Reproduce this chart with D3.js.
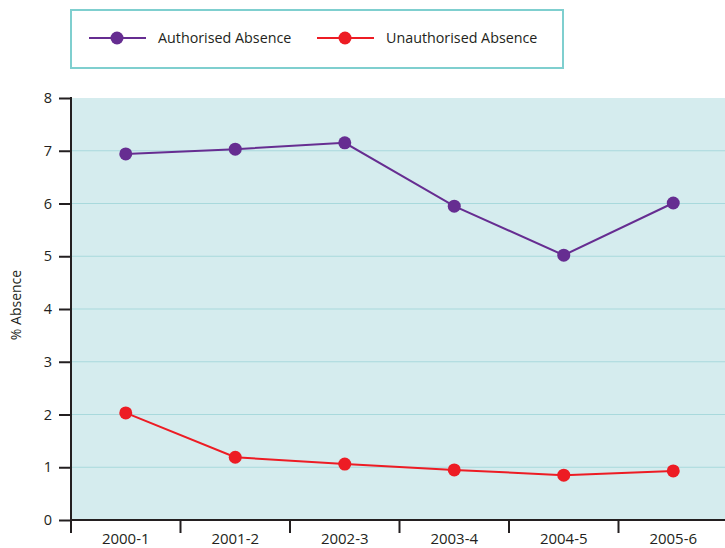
<!DOCTYPE html>
<html>
<head>
<meta charset="utf-8">
<script src="https://cdn.jsdelivr.net/npm/d3@7"></script>
<style>
  body { margin: 0; background: #fff; }
  text { font-family: "Open Sans", "Noto Sans", sans-serif; fill: #231f20; }
</style>
</head>
<body>
<div id="chart"></div>
<script>
var years = ["2000-1", "2001-2", "2002-3", "2003-4", "2004-5", "2005-6"];
var authorised = [6.94, 7.03, 7.15, 5.95, 5.02, 6.01];
var unauthorised = [2.03, 1.19, 1.06, 0.95, 0.85, 0.93];
var yTicks = [0, 1, 2, 3, 4, 5, 6, 7, 8];
var seriesNames = ["Authorised Absence", "Unauthorised Absence"];
var seriesColors = ["#662d91", "#ed1c24"];

var width = 725, height = 548;
var margin = { top: 98, left: 71, right: 0, bottom: 28 };
var innerW = width - margin.left - margin.right;
var innerH = height - margin.top - margin.bottom;

var svg = d3.select("#chart").append("svg")
    .attr("width", width)
    .attr("height", height);

var g = svg.append("g")
    .attr("transform", "translate(" + margin.left + "," + margin.top + ")");

var xScale = d3.scaleBand().domain(years).range([0, 657]);
var yScale = d3.scaleLinear().domain([0, 8]).range([innerH, 0]);

// background
g.append("rect")
    .attr("width", innerW)
    .attr("height", innerH)
    .attr("fill", "#d5ecee");

// grid lines
g.selectAll(".grid")
    .data(yTicks.slice(1, -1))
    .enter().append("line")
    .attr("class", "grid")
    .attr("x1", 0).attr("x2", innerW)
    .attr("y1", function(d) { return yScale(d); })
    .attr("y2", function(d) { return yScale(d); })
    .attr("stroke", "#a8d9dc")
    .attr("stroke-width", 1);

// axes
var yAxis = d3.axisLeft(yScale).tickValues(yTicks).tickSize(12).tickPadding(7).tickFormat(d3.format("d"));
var yg = g.append("g").call(yAxis);
yg.select(".domain").attr("stroke", "#231f20").attr("stroke-width", 2).attr("d", "M0," + (innerH + 1) + "V-1");
yg.selectAll(".tick line").attr("stroke", "#231f20").attr("stroke-width", 2);
yg.selectAll(".tick text").attr("font-size", 14.5).attr("fill", "#231f20");

var xg = g.append("g").attr("transform", "translate(0," + innerH + ")");
xg.append("line")
    .attr("x1", -1).attr("x2", innerW)
    .attr("stroke", "#231f20").attr("stroke-width", 2);
var bandEdges = years.map(function(d) { return xScale(d); });
xg.selectAll(".xtick")
    .data(bandEdges)
    .enter().append("line")
    .attr("x1", function(d) { return d; })
    .attr("x2", function(d) { return d; })
    .attr("y1", 0).attr("y2", 13)
    .attr("stroke", "#231f20").attr("stroke-width", 2);
xg.selectAll(".xlabel")
    .data(years)
    .enter().append("text")
    .attr("x", function(d) { return xScale(d) + xScale.bandwidth() / 2; })
    .attr("y", 24)
    .attr("text-anchor", "middle")
    .attr("font-size", 15)
    .text(function(d) { return d; });

// y label
svg.append("text")
    .attr("transform", "translate(21,305) rotate(-90)")
    .attr("text-anchor", "middle")
    .attr("font-size", 14)
    .text("% Absence");

// lines
var line = d3.line()
    .x(function(d, i) { return xScale(years[i]) + xScale.bandwidth() / 2; })
    .y(function(d) { return yScale(d); });

[authorised, unauthorised].forEach(function(values, s) {
  g.append("path")
      .attr("d", line(values))
      .attr("fill", "none")
      .attr("stroke", seriesColors[s])
      .attr("stroke-width", 2);
  g.selectAll(".dot" + s)
      .data(values)
      .enter().append("circle")
      .attr("cx", function(d, i) { return xScale(years[i]) + xScale.bandwidth() / 2; })
      .attr("cy", function(d) { return yScale(d); })
      .attr("r", 6.5)
      .attr("fill", seriesColors[s]);
});

// legend
var legend = svg.append("g");
legend.append("rect")
    .attr("x", 71).attr("y", 10)
    .attr("width", 492).attr("height", 58)
    .attr("fill", "#fff")
    .attr("stroke", "#7fcfcf")
    .attr("stroke-width", 2);

var legendX = [89, 317];
seriesNames.forEach(function(name, i) {
  var lx = legendX[i];
  legend.append("line")
      .attr("x1", lx).attr("x2", lx + 57)
      .attr("y1", 38).attr("y2", 38)
      .attr("stroke", seriesColors[i]).attr("stroke-width", 2);
  legend.append("circle")
      .attr("cx", lx + 28).attr("cy", 38).attr("r", 6.5)
      .attr("fill", seriesColors[i]);
  legend.append("text")
      .attr("x", lx + 69).attr("y", 43)
      .attr("font-size", 14.3)
      .text(name);
});
</script>
</body>
</html>
